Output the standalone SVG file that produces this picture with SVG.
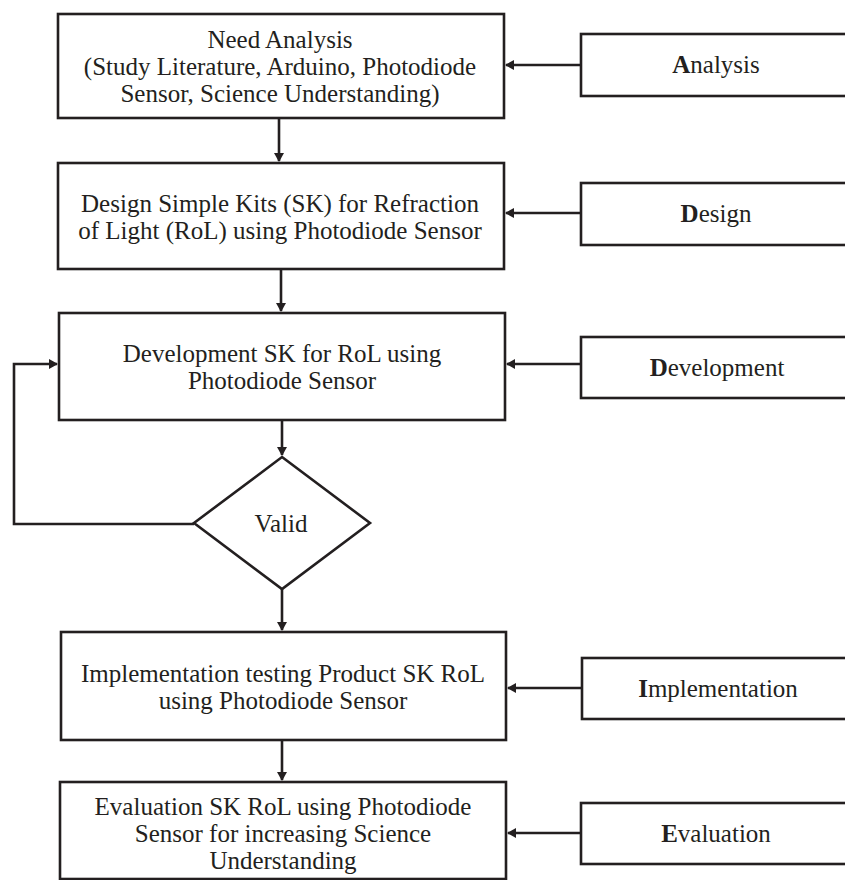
<svg xmlns="http://www.w3.org/2000/svg" width="845" height="880" viewBox="0 0 845 880">
<defs>
<style>
.box{fill:#fff;stroke:#231f20;stroke-width:2.6}
.ln{fill:none;stroke:#231f20;stroke-width:2.6}
text{font-family:"Liberation Serif","Times New Roman",serif;font-size:25px;fill:#231f20;text-anchor:middle}
</style>
<marker id="ah" markerWidth="10" markerHeight="10" refX="8" refY="5" orient="auto" markerUnits="userSpaceOnUse">
<path d="M0,0 L9,5 L0,10 Z" fill="#231f20"/>
</marker>
</defs>
<rect width="845" height="880" fill="#fff"/>
<g id="connectors">
<line class="ln" x1="581" y1="65" x2="506" y2="65" marker-end="url(#ah)"/>
<line class="ln" x1="581" y1="213" x2="506" y2="213" marker-end="url(#ah)"/>
<line class="ln" x1="581" y1="364" x2="507" y2="364" marker-end="url(#ah)"/>
<line class="ln" x1="582" y1="688" x2="508" y2="688" marker-end="url(#ah)"/>
<line class="ln" x1="581" y1="833" x2="508" y2="833" marker-end="url(#ah)"/>
<line class="ln" x1="279" y1="118" x2="279" y2="161" marker-end="url(#ah)"/>
<line class="ln" x1="281" y1="269" x2="281" y2="311" marker-end="url(#ah)"/>
<line class="ln" x1="282" y1="420" x2="282" y2="455" marker-end="url(#ah)"/>
<line class="ln" x1="282" y1="589" x2="282" y2="630" marker-end="url(#ah)"/>
<line class="ln" x1="282" y1="740" x2="282" y2="780" marker-end="url(#ah)"/>
<polyline class="ln" points="194,524 14,524 14,364 57,364" marker-end="url(#ah)"/>
</g>
<g id="need-analysis">
<rect class="box" x="58" y="14" width="446" height="104"/>
<text x="280" y="48">Need Analysis</text>
<text x="280" y="75">(Study Literature, Arduino, Photodiode</text>
<text x="280" y="102">Sensor, Science Understanding)</text>
</g>
<g id="design-sk">
<rect class="box" x="58" y="163" width="446" height="106"/>
<text x="280" y="212">Design Simple Kits (SK) for Refraction</text>
<text x="280" y="239">of Light (RoL) using Photodiode Sensor</text>
</g>
<g id="development-sk">
<rect class="box" x="59" y="313" width="446" height="107"/>
<text x="282" y="362">Development SK for RoL using</text>
<text x="282" y="389">Photodiode Sensor</text>
</g>
<g id="valid">
<polygon class="box" points="282,457 370,523 282,589 194,523"/>
<text x="281" y="532">Valid</text>
</g>
<g id="implementation-testing">
<rect class="box" x="61" y="632" width="445" height="108"/>
<text x="283" y="682">Implementation testing Product SK RoL</text>
<text x="283" y="709">using Photodiode Sensor</text>
</g>
<g id="evaluation-sk">
<rect class="box" x="60" y="782" width="446" height="97"/>
<text x="283" y="815">Evaluation SK RoL using Photodiode</text>
<text x="283" y="842">Sensor for increasing Science</text>
<text x="283" y="869">Understanding</text>
</g>
<g id="analysis">
<rect class="box" x="581" y="34" width="266" height="62"/>
<text x="716" y="73"><tspan font-weight="bold">A</tspan>nalysis</text>
</g>
<g id="design">
<rect class="box" x="581" y="183" width="266" height="62"/>
<text x="716" y="222"><tspan font-weight="bold">D</tspan>esign</text>
</g>
<g id="development">
<rect class="box" x="581" y="337" width="266" height="61"/>
<text x="717" y="376"><tspan font-weight="bold">D</tspan>evelopment</text>
</g>
<g id="implementation">
<rect class="box" x="582" y="658" width="265" height="61"/>
<text x="718" y="697"><tspan font-weight="bold">I</tspan>mplementation</text>
</g>
<g id="evaluation">
<rect class="box" x="581" y="803" width="266" height="61"/>
<text x="716" y="842"><tspan font-weight="bold">E</tspan>valuation</text>
</g>
</svg>
